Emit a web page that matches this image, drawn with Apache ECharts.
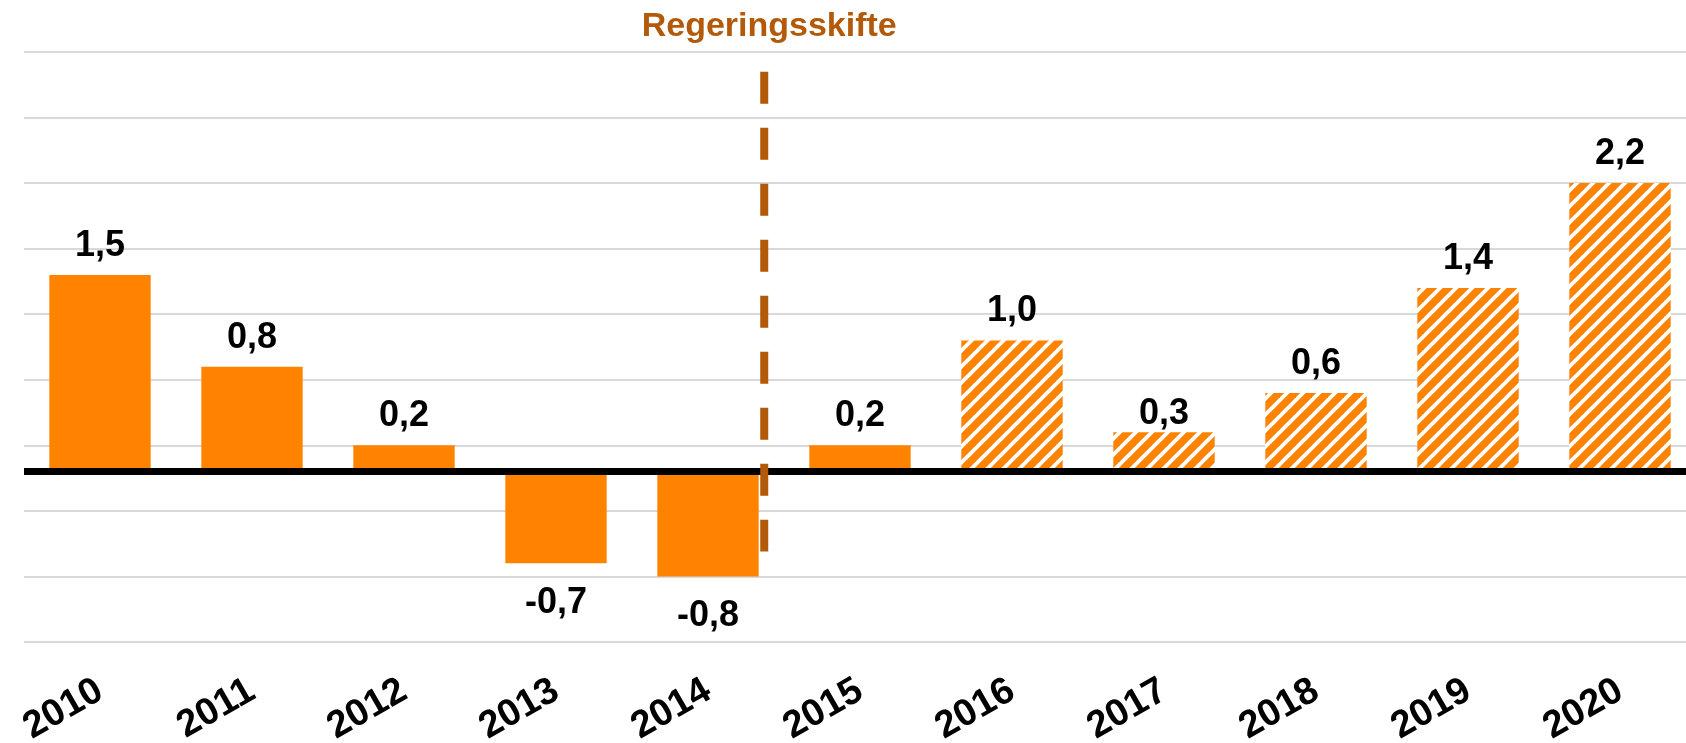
<!DOCTYPE html>
<html>
<head>
<meta charset="utf-8">
<script src="https://cdn.jsdelivr.net/npm/echarts@6/dist/echarts.min.js"></script>
<style>
html,body{margin:0;padding:0;background:#fff;overflow:hidden;}
#chart{width:1686px;height:743px;}
</style>
</head>
<body>
<div id="chart"></div>
<script>
// ---- data ----
const categories = ['2010','2011','2012','2013','2014','2015','2016','2017','2018','2019','2020'];
const values = [1.5, 0.8, 0.2, -0.7, -0.8, 0.2, 1.0, 0.3, 0.6, 1.4, 2.2];
const forecastFrom = '2016';            // hatched bars from this year on
const shiftLabel = 'Regeringsskifte';
const shiftPosition = 4.37;             // category index position of the dashed line
const shiftTop = 3.05;
const shiftBottom = -0.61;
const yMin = -1.3, yMax = 3.2, yStep = 0.5;

const ORANGE = '#ff8200';
const BROWN = '#b35a0a';
const FONT = "'Liberation Sans', Arial, sans-serif";

// hatch pattern (upward diagonal stripes)
function makeHatch() {
  const s = 16;
  const c = document.createElement('canvas');
  c.width = s; c.height = s;
  const g = c.getContext('2d');
  g.fillStyle = ORANGE;
  g.fillRect(0, 0, s, s);
  g.strokeStyle = '#ffffff';
  g.lineWidth = 3.8;
  [0, s, 2 * s].forEach(k => {
    g.beginPath();
    g.moveTo(k + 4, -4);      // x + y = k
    g.lineTo(k - s - 4, s + 4);
    g.stroke();
  });
  return c;
}
const hatch = { image: makeHatch(), repeat: 'repeat' };
const fIdx = categories.indexOf(forecastFrom);

const fmt = v => v.toFixed(1).replace('.', ',');

const barData = values.map((v, i) => {
  let label;
  if (v < 0) label = { position: 'bottom', distance: 22 };
  else label = { position: 'top', distance: categories[i] === '2017' ? 0 : 11 };
  return {
    value: v,
    itemStyle: { color: i >= fIdx ? hatch : ORANGE },
    label
  };
});

const chart = echarts.init(document.getElementById('chart'), null, { renderer: 'canvas' });
chart.setOption({
  animation: false,
  backgroundColor: '#ffffff',
  grid: { left: 24, width: 1672, top: 52, height: 590, containLabel: false, outerBoundsMode: 'none' },
  xAxis: [{
    type: 'category',
    data: categories,
    axisLine: { show: false },
    axisTick: { show: false },
    axisLabel: {
      rotate: 30,
      margin: 46,
      color: '#000',
      fontFamily: FONT,
      fontWeight: 'bold',
      fontSize: 38,
      interval: 0
    }
  }, {
    type: 'value',
    min: -0.5, max: categories.length - 0.5,
    show: false
  }],
  yAxis: {
    type: 'value',
    min: yMin, max: yMax, interval: yStep,
    axisLabel: { show: false },
    axisLine: { show: false },
    axisTick: { show: false },
    splitLine: { lineStyle: { color: '#d9d9d9', width: 2 } }
  },
  series: [{
    type: 'bar',
    data: barData,
    barWidth: '66.7%',
    label: {
      show: true,
      color: '#000',
      fontFamily: FONT,
      fontWeight: 'bold',
      fontSize: 36,
      formatter: p => fmt(p.value)
    },
    markLine: {
      silent: true,
      symbol: 'none',
      label: { show: false },
      lineStyle: { color: '#000', width: 7, type: 'solid' },
      data: [{ yAxis: 0 }]
    },
    z: 2
  }, {
    type: 'line',
    xAxisIndex: 1,
    data: [[shiftPosition, shiftTop], [shiftPosition, shiftBottom]],
    symbol: 'none',
    lineStyle: { color: BROWN, width: 8, type: [32, 24], cap: 'butt', opacity: 1 },
    z: 5
  }, {
    type: 'scatter',
    xAxisIndex: 1,
    data: [[shiftPosition, shiftTop]],
    symbolSize: 1,
    itemStyle: { color: 'rgba(0,0,0,0)', opacity: 1 },
    label: {
      show: true,
      position: 'top',
      distance: 28,
      offset: [5, 0],
      formatter: shiftLabel,
      color: BROWN,
      opacity: 1,
      fontFamily: FONT,
      fontWeight: 'bold',
      fontSize: 34
    },
    z: 6
  }]
});
</script>
</body>
</html>
